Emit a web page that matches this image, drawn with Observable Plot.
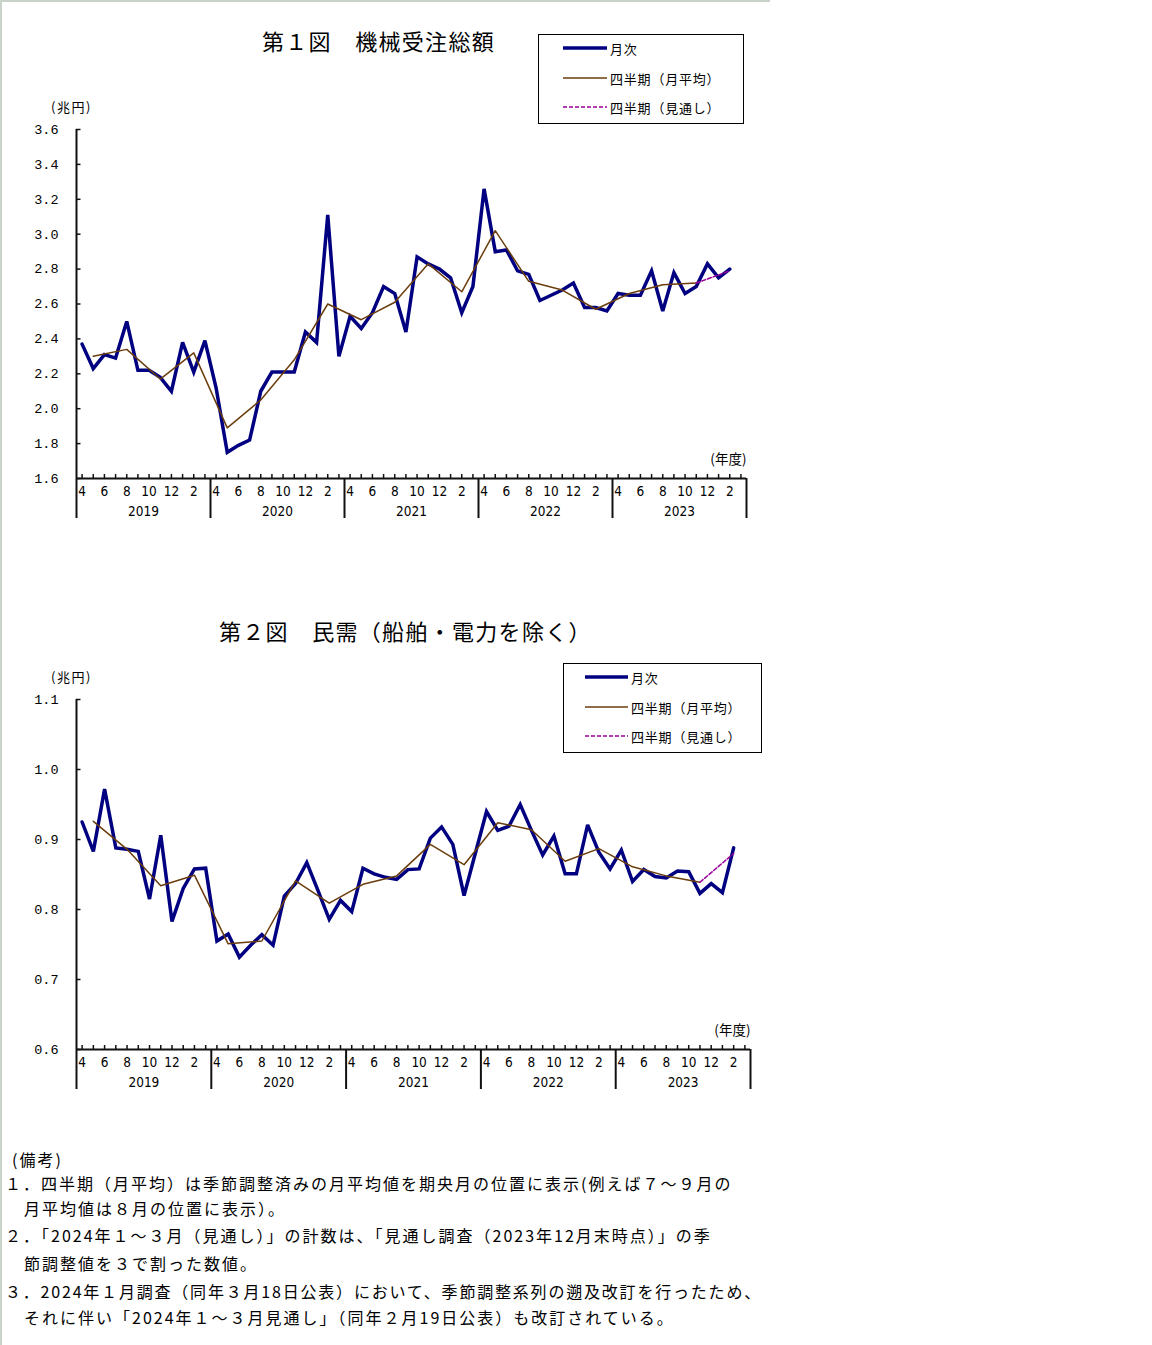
<!DOCTYPE html>
<html>
<head>
<meta charset="utf-8">
<script src="https://cdn.jsdelivr.net/npm/d3@7"></script>
<script src="https://cdn.jsdelivr.net/npm/@observablehq/plot@0.6"></script>
<style>
  html, body { margin: 0; padding: 0; background: #fff; }
  #page { position: relative; width: 1152px; height: 1345px; overflow: hidden; background: #fff;
          font-family: "Noto Sans CJK JP", sans-serif; color: #000; }
  .abs { position: absolute; white-space: nowrap; }
  .title { font-size: 22px; letter-spacing: 1.3px; line-height: 26px; }
  .unit { font-size: 13px; letter-spacing: 1.5px; line-height: 16px; }
  .legend { position: absolute; border: 1px solid #000; background: #fff; box-sizing: border-box; }
  .note { font-size: 16px; letter-spacing: 2px; line-height: 22px; }
</style>
</head>
<body>
<div id="page">
  <div class="abs" style="left:0;top:0;width:2px;height:1345px;background:#c9d3c9"></div>
  <div class="abs" style="left:0;top:0;width:770px;height:2px;background:#c9d3c9"></div>

  <div class="abs title" style="left:262px;top:27px">第１図　機械受注総額</div>
  <div class="abs unit" style="left:51px;top:99px">(兆円)</div>
  <div id="chart1" class="abs" style="left:0;top:100px"></div>
  <div id="legend1" class="legend" style="left:538px;top:34px;width:206px;height:90px"></div>

  <div class="abs title" style="left:219px;top:617px">第２図　民需（船舶・電力を除く）</div>
  <div class="abs unit" style="left:51px;top:669px">(兆円)</div>
  <div id="chart2" class="abs" style="left:0;top:670px"></div>
  <div id="legend2" class="legend" style="left:563px;top:663px;width:199px;height:90px"></div>

  <div class="abs note" style="left:12px;top:1148px">(備考)</div>
  <div class="abs note" style="left:5px;top:1172px">１．四半期（月平均）は季節調整済みの月平均値を期央月の位置に表示(例えば７～９月の</div>
  <div class="abs note" style="left:24px;top:1197px">月平均値は８月の位置に表示）。</div>
  <div class="abs note" style="left:5px;top:1224px">２．「2024年１～３月（見通し）」の計数は、「見通し調査（2023年12月末時点）」の季</div>
  <div class="abs note" style="left:24px;top:1252px">節調整値を３で割った数値。</div>
  <div class="abs note" style="left:5px;top:1280px;letter-spacing:1.8px">３．2024年１月調査（同年３月18日公表）において、季節調整系列の遡及改訂を行ったため、</div>
  <div class="abs note" style="left:24px;top:1306px">それに伴い「2024年１～３月見通し」（同年２月19日公表）も改訂されている。</div>
</div>
<script>
// ---------- data ----------
const fiscalYears = ["2019", "2020", "2021", "2022", "2023"];
const monthLabels = ["4", "6", "8", "10", "12", "2"];
const legendLabels = ["月次", "四半期（月平均）", "四半期（見通し）"];

// 第1図 機械受注総額 (兆円), monthly Apr 2019 – Feb 2024
const total_monthly = [
  2.37, 2.23, 2.31, 2.29, 2.50, 2.22, 2.22, 2.18, 2.10, 2.38, 2.21, 2.39,
  2.12, 1.75, 1.79, 1.82, 2.10, 2.21, 2.21, 2.21, 2.44, 2.38, 3.11, 2.30,
  2.53, 2.46, 2.55, 2.70, 2.66, 2.44, 2.87, 2.83, 2.80, 2.75, 2.55, 2.70,
  3.26, 2.90, 2.91, 2.79, 2.77, 2.62, 2.65, 2.68, 2.72, 2.58, 2.58, 2.56,
  2.66, 2.65, 2.65, 2.79, 2.56, 2.78, 2.66, 2.70, 2.83, 2.75, 2.80
];
// quarterly monthly average, plotted at the mid-month of each quarter
const total_quarterly = [
  2.30, 2.34, 2.17, 2.32,
  1.89, 2.05, 2.28, 2.60,
  2.51, 2.61, 2.83, 2.67,
  3.02, 2.73, 2.68, 2.57,
  2.66, 2.71, 2.72
];
const total_outlook = 2.79;   // 2024年1～3月 見通し
const total_yTicks = [1.6, 1.8, 2.0, 2.2, 2.4, 2.6, 2.8, 3.0, 3.2, 3.4, 3.6];

// 第2図 民需（船舶・電力を除く） (兆円)
const private_monthly = [
  0.925, 0.883, 0.972, 0.888, 0.886, 0.883, 0.815, 0.906, 0.783, 0.830, 0.858, 0.859,
  0.755, 0.765, 0.732, 0.749, 0.764, 0.749, 0.819, 0.837, 0.867, 0.827, 0.786, 0.813,
  0.797, 0.859, 0.851, 0.846, 0.843, 0.857, 0.858, 0.902, 0.918, 0.893, 0.820, 0.880,
  0.940, 0.913, 0.919, 0.950, 0.913, 0.878, 0.905, 0.851, 0.851, 0.921, 0.882, 0.858,
  0.885, 0.840, 0.857, 0.847, 0.845, 0.855, 0.854, 0.823, 0.837, 0.824, 0.888
];
const private_quarterly = [
  0.926, 0.886, 0.834, 0.849,
  0.751, 0.755, 0.841, 0.809,
  0.836, 0.848, 0.893, 0.864,
  0.924, 0.914, 0.869, 0.887,
  0.861, 0.848, 0.839
];
const private_outlook = 0.880;
const private_yTicks = [0.6, 0.7, 0.8, 0.9, 1.0, 1.1];

// ---------- styles ----------
const C_MONTH = "#000080";
const C_QUART = "#6b3d0c";
const C_OUTLK = "#990099";
const C_AXIS = "#111";
const NUM_FONT = "'Liberation Mono', 'DejaVu Sans Mono', monospace";
const CAT_FONT = "'Liberation Sans Narrow', 'DejaVu Sans Condensed', 'Liberation Sans', sans-serif";
const JP_FONT = "'Noto Sans CJK JP', sans-serif";

function makeChart({monthly, quarterly, outlook, yTicks, yFmt, frameRight, plotH}) {
  const W = 770, mTop = 29, H = 440;
  const mBottom = H - mTop - plotH;
  const yMin = yTicks[0], yMax = yTicks[yTicks.length - 1];
  const k = (yMax - yMin) / plotH;            // data units per pixel (y)
  const xPerPx = 60 / (frameRight - 76);      // data units per pixel (x)

  const mData = monthly.map((v, i) => ({x: i + 0.5, y: v}));
  const qData = quarterly.map((v, j) => ({x: 3 * j + 1.5, y: v}));
  const last = qData[qData.length - 1];
  const oData = [last, {x: last.x + 3, y: outlook}];

  const monthTickData = [];
  fiscalYears.forEach((fy, yi) => monthLabels.forEach((lab, li) =>
    monthTickData.push({x: yi * 12 + li * 2 + 0.5, label: lab})));
  const yearData = fiscalYears.map((fy, yi) => ({x: yi * 12 + 6, label: fy}));

  return Plot.plot({
    width: W, height: H,
    marginLeft: 76, marginRight: W - frameRight, marginTop: mTop, marginBottom: mBottom,
    style: {background: "transparent", overflow: "visible", fontSize: "13px", fontFamily: NUM_FONT},
    x: {type: "linear", domain: [0, 60], axis: null},
    y: {type: "linear", domain: [yMin, yMax], axis: null},
    marks: [
      // y axis
      Plot.ruleX([0], {y1: yMin, y2: yMax, stroke: C_AXIS, strokeWidth: 2}),
      Plot.ruleY(yTicks, {x1: 0, x2: 4.5 * xPerPx, stroke: C_AXIS, strokeWidth: 1.5}),
      Plot.text(yTicks, {x: 0, y: d => d, dx: -18, textAnchor: "end", text: d => d3.format(yFmt)(d),
        fontFamily: NUM_FONT, fontSize: 13.5, fill: "#000"}),
      // x axis
      Plot.ruleY([yMin], {x1: 0, x2: 60, stroke: C_AXIS, strokeWidth: 2}),
      Plot.ruleX(d3.range(60), {x: i => i + 0.5, y1: yMin, y2: yMin + 4 * k, stroke: C_AXIS, strokeWidth: 1.5}),
      Plot.ruleX(d3.range(0, 61, 12), {y1: yMin, y2: yMin - 40 * k, stroke: C_AXIS, strokeWidth: 2}),
      Plot.text(monthTickData, {x: "x", y: yMin, dy: 13, text: "label", fontFamily: CAT_FONT, fontSize: 13.5, fill: "#000"}),
      Plot.text(yearData, {x: "x", y: yMin, dy: 33, text: "label", fontFamily: CAT_FONT, fontSize: 13.5, fill: "#000"}),
      Plot.text(["(年度)"], {x: 60, y: yMin, dy: -19, textAnchor: "end", text: d => d, fontFamily: JP_FONT, fontSize: 13.5, fill: "#000"}),
      // data
      Plot.line(mData, {x: "x", y: "y", stroke: C_MONTH, strokeWidth: 3.5, strokeLinejoin: "miter", strokeMiterlimit: 3}),
      Plot.line(qData, {x: "x", y: "y", stroke: C_QUART, strokeWidth: 1.5}),
      Plot.line(oData, {x: "x", y: "y", stroke: C_OUTLK, strokeWidth: 1.5, strokeDasharray: "4,2"})
    ]
  });
}

document.getElementById("chart1").appendChild(makeChart({
  monthly: total_monthly, quarterly: total_quarterly, outlook: total_outlook,
  yTicks: total_yTicks, yFmt: ".1f", frameRight: 746, plotH: 349
}));
document.getElementById("chart2").appendChild(makeChart({
  monthly: private_monthly, quarterly: private_quarterly, outlook: private_outlook,
  yTicks: private_yTicks, yFmt: ".1f", frameRight: 750, plotH: 350
}));

function makeLegend(el, lineX0, lineX1, textX, rowsY) {
  const styles = [
    {stroke: C_MONTH, width: 3.5, dash: null},
    {stroke: C_QUART, width: 1.5, dash: null},
    {stroke: C_OUTLK, width: 1.5, dash: "4,2"}
  ];
  const w = el.clientWidth, h = el.clientHeight;
  const svg = d3.create("svg").attr("width", w).attr("height", h)
    .style("position", "absolute").style("left", 0).style("top", 0);
  legendLabels.forEach((lab, i) => {
    const s = styles[i];
    const ln = svg.append("line").attr("x1", lineX0).attr("x2", lineX1).attr("y1", rowsY[i]).attr("y2", rowsY[i])
      .attr("stroke", s.stroke).attr("stroke-width", s.width);
    if (s.dash) ln.attr("stroke-dasharray", s.dash);
    svg.append("text").attr("x", textX).attr("y", rowsY[i]).attr("dominant-baseline", "central")
      .attr("font-family", JP_FONT).attr("font-size", 13).attr("letter-spacing", 0.8).text(lab);
  });
  el.appendChild(svg.node());
}
// legend coordinates are relative to each box (box border 1px)
makeLegend(document.getElementById("legend1"), 24, 68, 71, [13, 43, 72]);
makeLegend(document.getElementById("legend2"), 21, 64, 67, [13, 43, 72]);
</script>
</body>
</html>
